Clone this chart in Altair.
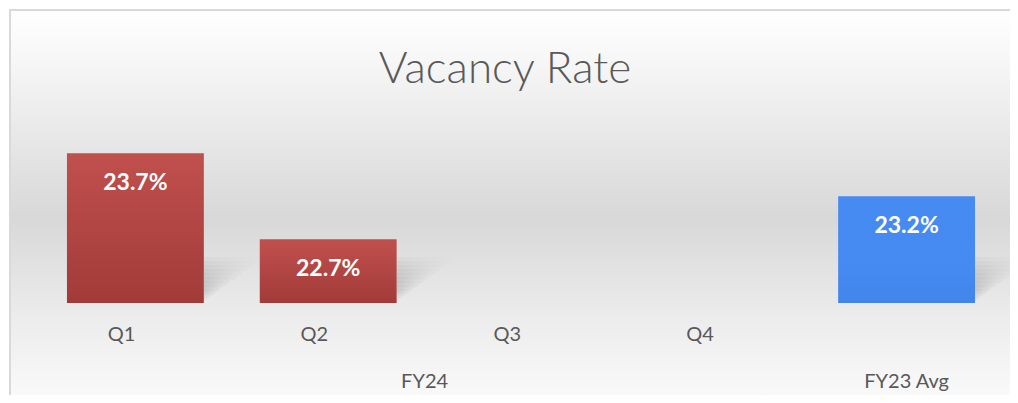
import altair as alt
import pandas as pd

# ---- data ----
categories = ["Q1", "Q2", "Q3", "Q4", "FY23 Avg"]
values = [23.7, 22.7, None, None, 23.2]
groups = ["FY24", "FY24", "FY24", "FY24", "FY23 Avg"]
value_labels = ["23.7%", "22.7%", "", "", "23.2%"]
axis_min = 21.96
axis_max = 23.96
title_text = "Vacancy Rate"

W, H = 964, 172
FONT = "Lato"
GREY = "#595959"
PAD_INNER = 0.29
STEP = W / len(categories)

df = pd.DataFrame({"cat": categories, "value": values, "group": groups, "label": value_labels})
bars_df = df.dropna(subset=["value"])

# group label anchors (center of each group's span)
grp_rows_even, grp_rows_odd = [], []
seen = []
for g in groups:
    if g not in seen:
        seen.append(g)
for g in seen:
    members = [c for c, gg in zip(categories, groups) if gg == g]
    n = len(members)
    if n % 2 == 0:
        grp_rows_even.append({"cat": members[n // 2 - 1], "text": g})
    else:
        grp_rows_odd.append({"cat": members[n // 2], "text": g})

xscale = alt.Scale(domain=categories, paddingInner=PAD_INNER, paddingOuter=PAD_INNER / 2)
yscale = alt.Scale(domain=[axis_min, axis_max], zero=False, nice=False)

x_enc = alt.X("cat:N", sort=categories, scale=xscale, title=None,
              axis=alt.Axis(labelExpr="datum.value == 'FY23 Avg' ? '' : datum.value",
                            labelFontSize=20, labelColor=GREY, labelFont=FONT,
                            labelPadding=31, ticks=False, domain=False, grid=False,
                            labelAngle=0, zindex=1))
y_enc = alt.Y("value:Q", scale=yscale, axis=None)

one = alt.Data(values=[{"t": title_text}])

background = alt.Chart(one).mark_rect(
    color={"gradient": "linear", "x1": 0, "y1": 0, "x2": 0, "y2": 1,
           "stops": [{"offset": 0, "color": "#ffffff"},
                     {"offset": 0.12, "color": "#f7f7f7"},
                     {"offset": 0.52, "color": "#d8d8d8"},
                     {"offset": 0.78, "color": "#ededed"},
                     {"offset": 1, "color": "#fcfcfc"}]},
    stroke="#d9d9d9", strokeWidth=2
).encode(x=alt.value(-29), x2=alt.value(990), y=alt.value(-121), y2=alt.value(280))

title = alt.Chart(one).mark_text(
    font=FONT, fontSize=44, fontWeight=300, color=GREY, baseline="alphabetic", align="center"
).encode(x=alt.value(466), y=alt.value(-48), text="t:N")

# soft perspective shadows: stacked translucent wedges to the right of each bar
bar_w = STEP * (1 - PAD_INNER)
shadow_layers = []
for i in range(9):
    sw, sh = 18 + 6 * i, 14 + 4 * i
    shadow_layers.append(
        alt.Chart(bars_df).mark_bar(
            width=sw, xOffset=bar_w / 2 + sw / 2,
            color={"gradient": "linear", "x1": 0, "y1": 0, "x2": 1, "y2": 1,
                   "stops": [{"offset": 0, "color": "rgba(0,0,0,0.035)"},
                             {"offset": 0.5, "color": "rgba(0,0,0,0)"},
                             {"offset": 1, "color": "rgba(0,0,0,0)"}]}
        ).encode(x=alt.X("cat:N", sort=categories, scale=xscale),
                 y=alt.value(H - sh), y2=alt.value(H))
    )

red_bars = alt.Chart(bars_df).transform_filter(alt.datum.group == "FY24").mark_bar(
    color={"gradient": "linear", "x1": 0, "y1": 0, "x2": 0, "y2": 1,
           "stops": [{"offset": 0, "color": "#c0504e"},
                     {"offset": 1, "color": "#a23b38"}]}
).encode(x=x_enc, y=y_enc, y2=alt.Y2(datum=axis_min))

blue_bars = alt.Chart(bars_df).transform_filter(alt.datum.group == "FY23 Avg").mark_bar(
    color={"gradient": "linear", "x1": 0, "y1": 0, "x2": 0, "y2": 1,
           "stops": [{"offset": 0, "color": "#468bf2"},
                     {"offset": 0.7, "color": "#458af1"},
                     {"offset": 1, "color": "#4285ea"}]}
).encode(x=x_enc, y=y_enc, y2=alt.Y2(datum=axis_min))

labels = alt.Chart(bars_df).mark_text(
    color="white", font=FONT, fontSize=23, fontWeight="bold", baseline="middle", dy=30
).encode(x=alt.X("cat:N", sort=categories, scale=xscale), y=y_enc, text="label:N")

grp_even = alt.Chart(alt.Data(values=grp_rows_even)).mark_text(
    font=FONT, fontSize=20, color=GREY, baseline="alphabetic", dx=STEP * PAD_INNER / 2
).encode(x=alt.X("cat:N", sort=categories, scale=xscale, bandPosition=1),
         y=alt.value(H + 85), text="text:N")

grp_odd = alt.Chart(alt.Data(values=grp_rows_odd)).mark_text(
    font=FONT, fontSize=20, color=GREY, baseline="alphabetic"
).encode(x=alt.X("cat:N", sort=categories, scale=xscale, bandPosition=0.5),
         y=alt.value(H + 85), text="text:N")

chart = alt.layer(background, title, *shadow_layers, red_bars, blue_bars, labels,
                  grp_even, grp_odd).properties(
    width=W, height=H,
    autosize=alt.AutoSizeParams(type="none"),
    padding={"left": 31, "top": 123, "right": 7, "bottom": 92},
).configure_view(stroke=None).configure(background="white")

chart.save("out.html", embed_options={"renderer": "svg", "actions": False})
